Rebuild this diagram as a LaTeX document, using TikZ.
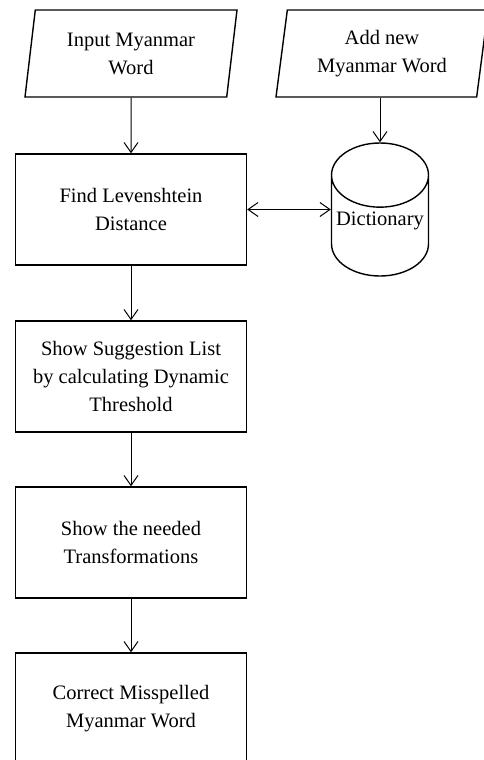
\documentclass[tikz,border=0pt]{standalone}
\usepackage{fontspec}
\setmainfont{Liberation Serif}
\usetikzlibrary{arrows.meta}
\usetikzlibrary{shapes}
\usetikzlibrary{positioning}

\begin{document}
\begin{tikzpicture}[x=1pt,y=-1pt]
    \tikzset{every node/.style={align=center, font=\fontsize{20.5}{28}\selectfont},
            >={Straight Barb[length=10pt,width=14pt]},
            box/.style={draw, line width=1.4pt, minimum width=231pt, minimum height=111pt},
            io/.style={draw, line width=1.4pt, trapezium, trapezium left angle=78,
                trapezium right angle=102, trapezium stretches body,
                minimum width=212pt, minimum height=87pt},
            db/.style={draw, line width=1.4pt, cylinder, shape border rotate=90,
                aspect=0.7, inner sep=2pt, minimum width=97pt, minimum height=133pt},
            every edge/.style={draw=black, line width=1pt}}
    \useasboundingbox (0,0) rectangle (483,760);
    % inputs
    \node[io] (in) at (131,53.5) {Input Myanmar\\Word};
    \node[io] (add) at (382,53.5) {Add new\\Myanmar Word};
    % processing steps
    \node[box] (lev) at (131,209.5) {Find Levenshtein\\Distance};
    \node[db, anchor=shape center] (dict) at (380,209.5) {\raisebox{10pt}[\height][\depth]{Dictionary}};
    \node[box] (sug) at (131,376.5) {Show Suggestion List\\by calculating Dynamic\\Threshold};
    \node[box] (trans) at (131,542.5) {Show the needed\\Transformations};
    \node[box] (corr) at (131,708.5) {Correct Misspelled\\Myanmar Word};
    \path [->] (in) edge (lev);
    \path [->] (add.south -| dict.top) edge (dict.top);
    \path [<->] (lev) edge (lev -| dict.west);
    \path [->] (lev) edge (sug);
    \path [->] (sug) edge (trans);
    \path [->] (trans) edge (corr);
\end{tikzpicture}
\end{document}
